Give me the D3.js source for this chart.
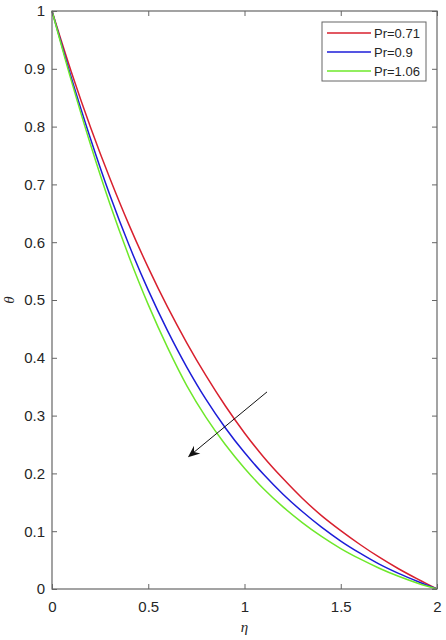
<!DOCTYPE html>
<html><head><meta charset="utf-8">
<script src="https://cdn.jsdelivr.net/npm/d3@7/dist/d3.min.js"></script>
<style>body{margin:0;background:#fff}svg{display:block}</style>
</head><body>
<script>
const eta = [0,0.1,0.2,0.3,0.4,0.5,0.6,0.7,0.8,0.9,1.0,1.1,1.2,1.3,1.4,1.5,1.6,1.7,1.8,1.9,2.0];
const thetaPr071 = [1,0.895,0.799,0.711,0.630,0.556,0.488,0.426,0.369,0.317,0.270,0.228,0.191,0.157,0.127,0.101,0.077,0.055,0.035,0.017,0];
const thetaPr09  = [1,0.885,0.779,0.682,0.595,0.517,0.447,0.384,0.328,0.279,0.236,0.198,0.164,0.134,0.107,0.083,0.062,0.043,0.027,0.013,0];
const thetaPr106 = [1,0.880,0.769,0.667,0.575,0.492,0.418,0.352,0.297,0.250,0.209,0.173,0.142,0.115,0.091,0.070,0.052,0.036,0.022,0.010,0];
const seriesNames = ["Pr=0.71","Pr=0.9","Pr=1.06"];
const seriesColors = ["#d8202e","#1c1cd8","#6ee82a"];
const xTicks = [0,0.5,1,1.5,2];
const yTicks = [0,0.1,0.2,0.3,0.4,0.5,0.6,0.7,0.8,0.9,1];
const arrowFrom = [1.117,0.341];
const arrowTo = [0.706,0.228];

const W=446,H=640;
const m={l:52,r:9,t:11,b:51};
const svg=d3.select("body").append("svg").attr("width",W).attr("height",H);
const x=d3.scaleLinear().domain([0,2]).range([m.l,W-m.r]);
const y=d3.scaleLinear().domain([0,1]).range([H-m.b,m.t]);
const axisCol="#666", txtCol="#262626";
const font="'Liberation Sans', Arial, sans-serif";

const series=[thetaPr071,thetaPr09,thetaPr106];
const line=d3.line().x(d=>x(d[0])).y(d=>y(d[1])).curve(d3.curveCatmullRom.alpha(0.5));
series.forEach((s,i)=>{
  svg.append("path").datum(eta.map((e,j)=>[e,s[j]]))
    .attr("d",line).attr("fill","none").attr("stroke",seriesColors[i]).attr("stroke-width",1.5);
});

// axes
function styleAxis(g){
  g.select(".domain").remove();
  g.selectAll(".tick line").attr("stroke",axisCol);
  g.selectAll(".tick text").attr("fill",txtCol).style("font-family",font).style("font-size","15px");
}
const fmt=d=>d3.format("")(+d.toFixed(2));
svg.append("g").attr("transform",`translate(0,${H-m.b})`)
  .call(d3.axisBottom(x).tickValues(xTicks).tickFormat(fmt).tickSizeInner(-5).tickSizeOuter(0).tickPadding(12))
  .call(styleAxis);
svg.append("g").attr("transform",`translate(0,${m.t})`)
  .call(d3.axisTop(x).tickValues(xTicks).tickFormat("").tickSizeInner(-5).tickSizeOuter(0))
  .call(styleAxis);
svg.append("g").attr("transform",`translate(${m.l},0)`)
  .call(d3.axisLeft(y).tickValues(yTicks).tickFormat(fmt).tickSizeInner(-5).tickSizeOuter(0).tickPadding(7))
  .call(styleAxis);
svg.append("g").attr("transform",`translate(${W-m.r},0)`)
  .call(d3.axisRight(y).tickValues(yTicks).tickFormat("").tickSizeInner(-5).tickSizeOuter(0))
  .call(styleAxis);
svg.append("rect").attr("x",m.l).attr("y",m.t).attr("width",W-m.r-m.l).attr("height",H-m.b-m.t)
  .attr("fill","none").attr("stroke",axisCol).attr("stroke-width",1.2);

// labels
svg.append("text").attr("x",(m.l+W-m.r)/2-0).attr("y",632).attr("text-anchor","middle")
  .attr("fill",txtCol).style("font-family","'Liberation Serif','Times New Roman',serif").style("font-style","italic").style("font-size","15px").text("η");
svg.append("text").attr("transform",`translate(14,${(m.t+H-m.b)/2}) rotate(-90)`).attr("text-anchor","middle")
  .attr("fill",txtCol).style("font-family","'Liberation Serif','Times New Roman',serif").style("font-style","italic").style("font-size","15px").text("θ");

// arrow
const ax1=x(arrowFrom[0]),ay1=y(arrowFrom[1]),ax2=x(arrowTo[0]),ay2=y(arrowTo[1]);
const ang=Math.atan2(ay2-ay1,ax2-ax1);
svg.append("line").attr("x1",ax1).attr("y1",ay1).attr("x2",ax2+Math.cos(ang)*-6).attr("y2",ay2+Math.sin(ang)*-6)
  .attr("stroke","#111").attr("stroke-width",1);
const L=12,Wd=5,back=8;
const p=(dx,dy)=>[ax2+dx*Math.cos(ang)-dy*Math.sin(ang), ay2+dx*Math.sin(ang)+dy*Math.cos(ang)];
const head=[p(0,0),p(-L,Wd),p(-back,0),p(-L,-Wd)];
svg.append("path").attr("d","M"+head.map(q=>q.join(",")).join("L")+"Z").attr("fill","#111");

// legend
const lg=svg.append("g");
lg.append("rect").attr("x",322).attr("y",22).attr("width",104).attr("height",59)
  .attr("fill","#fff").attr("stroke",axisCol).attr("stroke-width",1);
seriesNames.forEach((n,i)=>{
  const yy=33+i*19;
  lg.append("line").attr("x1",327).attr("x2",371).attr("y1",yy).attr("y2",yy)
    .attr("stroke",seriesColors[i]).attr("stroke-width",1.5);
  lg.append("text").attr("x",374).attr("y",yy).attr("dy","0.36em").attr("fill",txtCol)
    .style("font-family",font).style("font-size","13px").text(n);
});
</script>
</body></html>
